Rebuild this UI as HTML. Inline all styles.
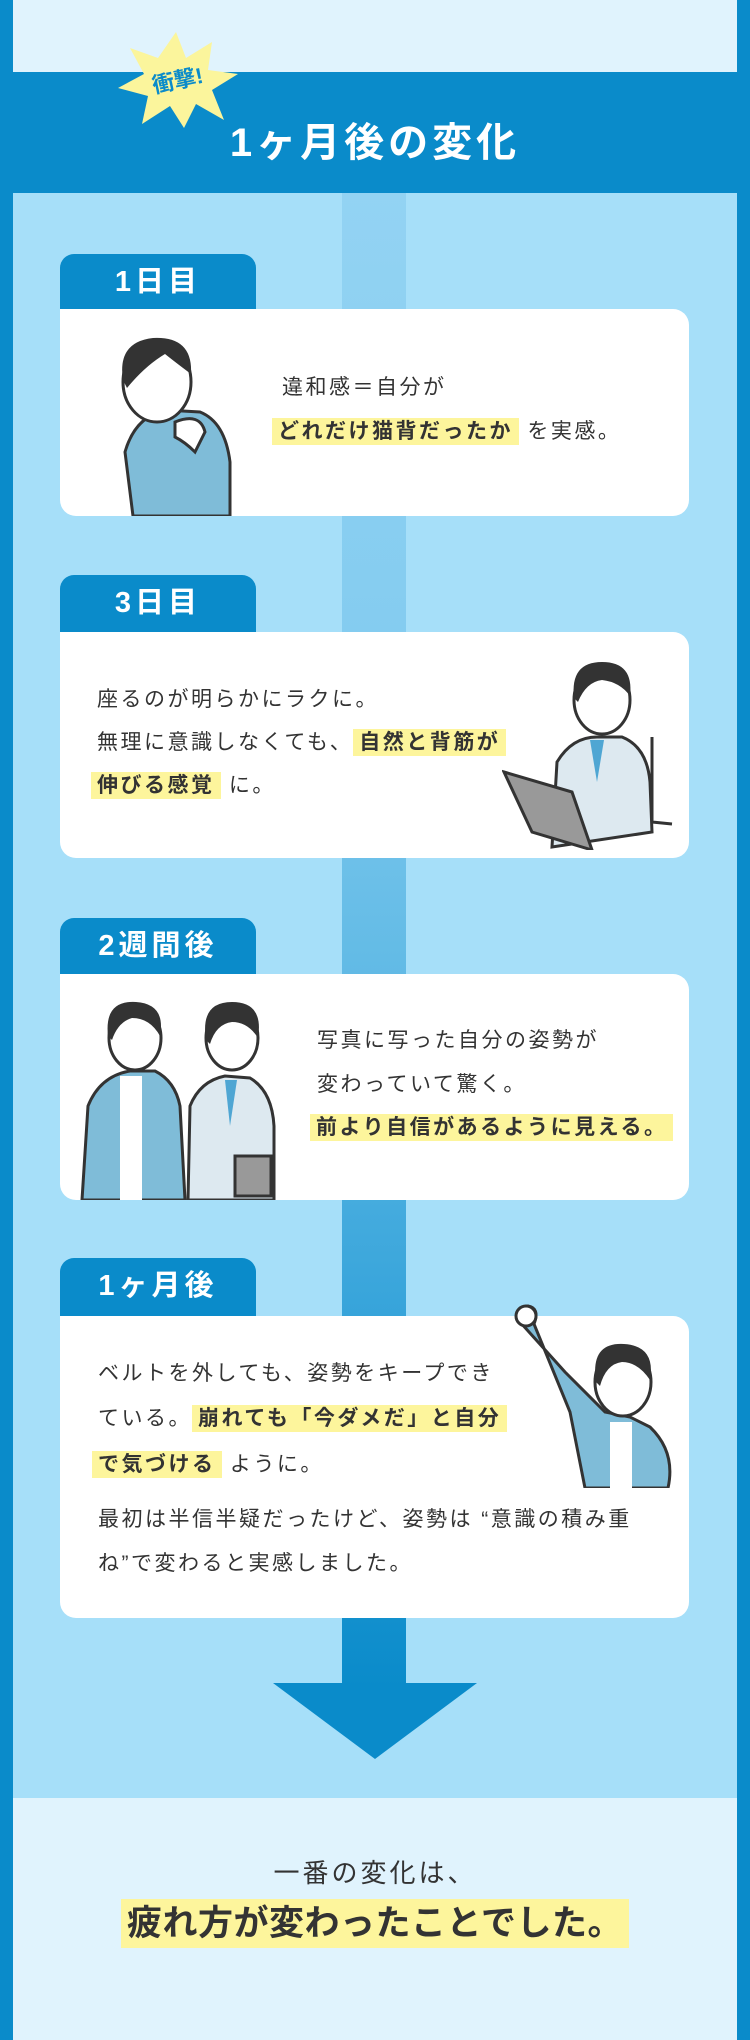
<!DOCTYPE html>
<html><head><meta charset="utf-8">
<style>
*{margin:0;padding:0;box-sizing:border-box}
body{width:750px;height:2040px;position:relative;background:#0a8bca;font-family:"Liberation Sans","Noto Sans CJK JP",sans-serif;color:#333;overflow:hidden}
.abs{position:absolute}
.toppale{left:13px;top:0;width:724px;height:72px;background:#e0f3fd}
.main{left:13px;top:193px;width:724px;height:1605px;background:#a6dff9}
.botpale{left:13px;top:1798px;width:724px;height:242px;background:#e0f3fd}
.conn{left:342px;top:193px;width:64px;height:1495px;background:linear-gradient(#93d3f3 0%,#84ccf0 30%,#5db8e4 55%,#2d9fd8 80%,#0a8bca 100%)}
.tab{left:60px;width:196px;height:60px;background:#0a8bca;border-radius:14px 14px 0 0;color:#fff;font-weight:bold;font-size:29px;letter-spacing:4px;text-align:center;line-height:56px}
.card{left:60px;width:629px;background:#fff;border-radius:0 16px 16px 16px}
.t{position:absolute;font-size:21px;white-space:nowrap;letter-spacing:2.5px;line-height:30px}
.hl{background:#fdf59c;font-weight:bold;padding:2px 6px}
.title{left:0;width:750px;top:110px;text-align:center;color:#fff;font-size:40px;font-weight:bold;letter-spacing:4px}
</style></head><body>
<div class="abs toppale"></div>
<div class="abs main"></div>
<div class="abs botpale"></div>
<div class="abs conn"></div>
<svg class="abs" style="left:273px;top:1683px" width="204" height="76"><polygon points="0,0 204,0 102,76" fill="#0a8bca"/></svg>

<svg class="abs" style="left:112px;top:30px" width="130" height="100" viewBox="0 0 130 100">
<polygon points="64,2 74,28 100,12 96,40 126,44 100,60 112,90 84,74 72,98 58,76 30,94 36,66 6,58 32,44 18,18 46,28" fill="#fbf59c"/>
<text x="66" y="58" text-anchor="middle" font-size="22" font-weight="bold" fill="#0a8bca" transform="rotate(-12 66 52)" font-family="Liberation Sans,Noto Sans CJK JP,sans-serif">衝撃!</text>
</svg>
<div class="abs title">1ヶ月後の変化</div>

<!-- card 1 -->
<div class="abs tab" style="top:254px">1日目</div>
<div class="abs card" style="top:309px;height:207px">
<svg class="abs" style="left:45px;top:23px" width="130" height="184" viewBox="0 0 130 184">
<path d="M28 184 L20 120 Q30 85 60 78 L95 80 Q120 90 125 130 L125 184Z" fill="#7fbcd8" stroke="#333" stroke-width="3"/>
<ellipse cx="52" cy="50" rx="34" ry="40" fill="#fff" stroke="#333" stroke-width="3"/>
<path d="M18 48 Q12 10 48 6 Q88 4 86 42 Q70 30 60 22 Q40 34 22 56Z" fill="#333"/>
<path d="M70 90 Q95 80 100 100 L90 120 Q80 110 70 105Z" fill="#fff" stroke="#333" stroke-width="3"/>
</svg>
<div class="t" style="left:222px;top:64px">違和感＝自分が</div>
<div class="t" style="left:212px;top:108px"><span class="hl">どれだけ猫背だったか</span> を実感。</div>
</div>

<!-- card 2 -->
<div class="abs tab" style="top:575px">3日目</div>
<div class="abs card" style="top:632px;height:226px">
<div class="t" style="left:37px;top:53px">座るのが明らかにラクに。</div>
<div class="t" style="left:37px;top:96px">無理に意識しなくても、<span class="hl">自然と背筋が</span></div>
<div class="t" style="left:31px;top:139px"><span class="hl">伸びる感覚</span> に。</div>
<svg class="abs" style="left:442px;top:20px" width="172" height="198" viewBox="0 0 172 198">
<path d="M150 85 L150 170 L170 172" fill="none" stroke="#333" stroke-width="3"/>
<path d="M50 195 L55 110 Q70 85 95 85 L120 85 Q145 95 148 130 L150 180Z" fill="#dde9f0" stroke="#333" stroke-width="3"/>
<path d="M88 88 L95 130 L102 88Z" fill="#4fa6d3"/>
<ellipse cx="100" cy="48" rx="28" ry="34" fill="#fff" stroke="#333" stroke-width="3"/>
<path d="M72 46 Q68 10 100 10 Q132 10 128 44 Q118 30 100 28 Q84 30 76 50Z" fill="#333"/>
<polygon points="2,120 70,140 90,198 30,180" fill="#999" stroke="#333" stroke-width="3"/>
</svg>
</div>

<!-- card 3 -->
<div class="abs tab" style="top:918px">2週間後</div>
<div class="abs card" style="top:974px;height:226px">
<svg class="abs" style="left:20px;top:22px" width="200" height="204" viewBox="0 0 200 204">
<path d="M2 204 L8 110 Q20 80 50 75 L75 75 Q95 85 100 110 L105 204Z" fill="#7fbcd8" stroke="#333" stroke-width="3"/>
<rect x="40" y="80" width="22" height="124" fill="#fff"/>
<ellipse cx="55" cy="42" rx="26" ry="32" fill="#fff" stroke="#333" stroke-width="3"/>
<path d="M28 40 Q24 4 56 6 Q86 8 80 40 Q70 22 52 22 Q38 26 32 44Z" fill="#333"/>
<path d="M108 204 L110 110 Q120 85 145 80 L170 82 Q192 95 194 130 L194 204Z" fill="#dde9f0" stroke="#333" stroke-width="3"/>
<path d="M145 84 L150 130 L157 84Z" fill="#4fa6d3"/>
<ellipse cx="152" cy="42" rx="26" ry="32" fill="#fff" stroke="#333" stroke-width="3"/>
<path d="M126 44 Q120 6 152 6 Q184 6 178 42 Q168 26 152 26 Q136 28 130 48Z" fill="#333"/>
<rect x="155" y="160" width="36" height="40" fill="#999" stroke="#333" stroke-width="3"/>
</svg>
<div class="t" style="left:257px;top:52px">写真に写った自分の姿勢が</div>
<div class="t" style="left:257px;top:96px">変わっていて驚く。</div>
<div class="t" style="left:250px;top:139px"><span class="hl">前より自信があるように見える。</span></div>
</div>

<!-- card 4 -->
<div class="abs tab" style="top:1258px">1ヶ月後</div>
<div class="abs card" style="top:1316px;height:302px">
<svg class="abs" style="left:450px;top:-14px" width="170" height="186" viewBox="0 0 170 186">
<path d="M10 20 Q5 5 18 4 Q30 6 24 22 L60 110 L75 186 L158 186 Q166 150 140 125 L120 115 L95 110 L55 70Z" fill="#7fbcd8" stroke="#333" stroke-width="3"/>
<circle cx="16" cy="14" r="10" fill="#fff" stroke="#333" stroke-width="3"/>
<rect x="100" y="120" width="22" height="66" fill="#fff"/>
<ellipse cx="113" cy="80" rx="28" ry="34" fill="#fff" stroke="#333" stroke-width="3"/>
<path d="M86 80 Q80 40 114 42 Q146 44 140 78 Q128 60 112 60 Q96 62 90 84Z" fill="#333"/>
</svg>
<div class="t" style="left:38px;top:43px">ベルトを外しても、姿勢をキープでき</div>
<div class="t" style="left:38px;top:88px">ている。<span class="hl">崩れても「今ダメだ」と自分</span></div>
<div class="t" style="left:32px;top:134px"><span class="hl">で気づける</span> ように。</div>
<div class="t" style="left:38px;top:189px">最初は半信半疑だったけど、姿勢は “意識の積み重</div>
<div class="t" style="left:38px;top:233px">ね”で変わると実感しました。</div>
</div>

<div class="abs" style="left:0;width:750px;top:1853px;text-align:center;font-size:26px;letter-spacing:3px">一番の変化は、</div>
<div class="abs" style="left:121px;width:508px;top:1899px;height:49px;background:#fdf59c;text-align:center;font-size:35px;font-weight:bold;line-height:49px;white-space:nowrap;letter-spacing:0.5px">疲れ方が変わったことでした。</div>
</body></html>
